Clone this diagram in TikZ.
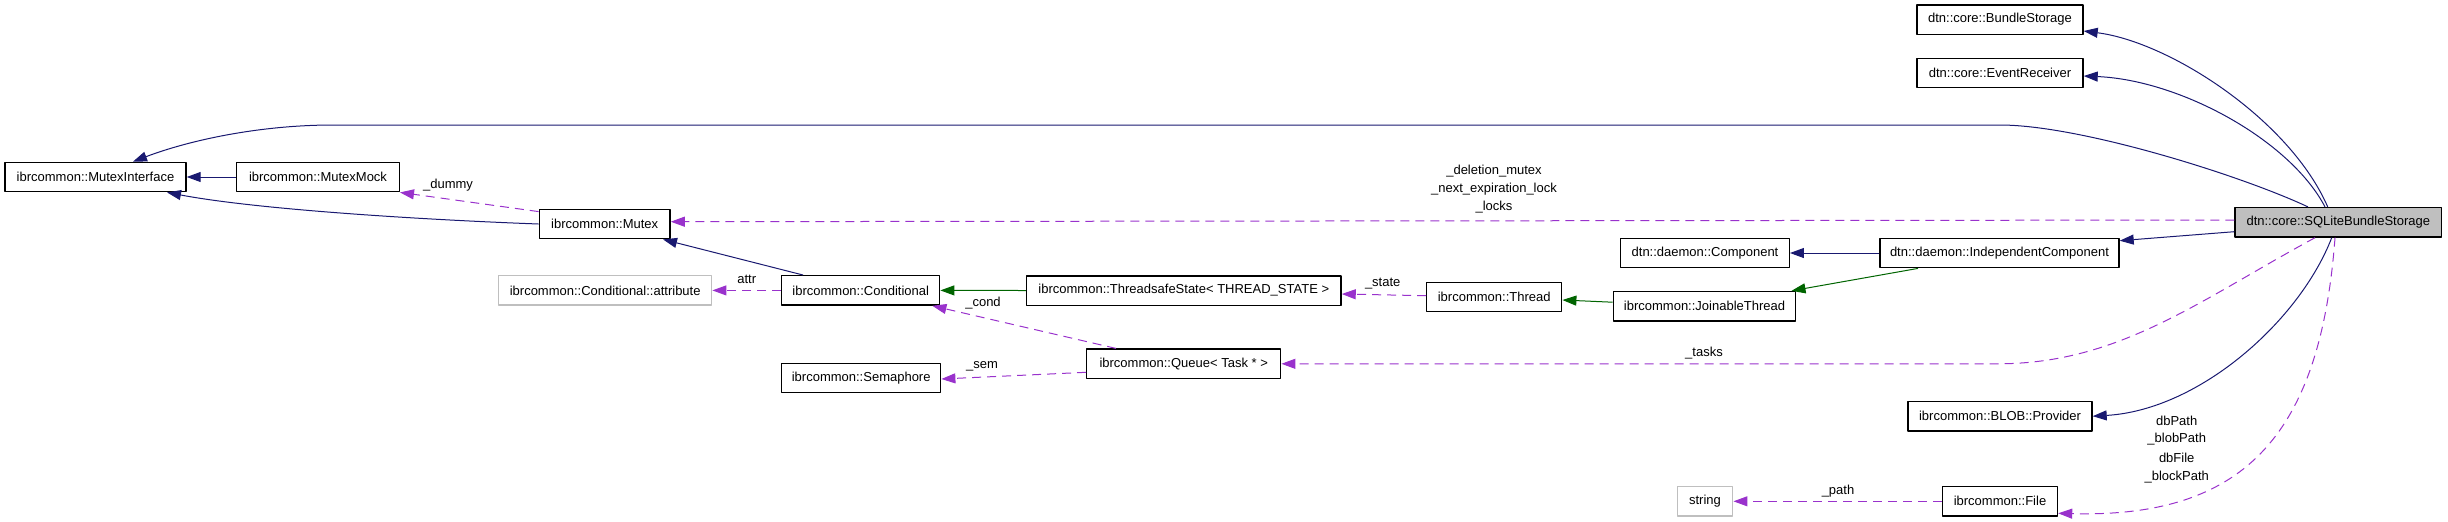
\documentclass[tikz,border=0pt]{standalone}
\usepackage{fontspec}
\setmainfont{Liberation Sans}
\usetikzlibrary{arrows.meta}

\definecolor{midblue}{HTML}{191970}
\definecolor{dkgreen}{HTML}{006400}
\definecolor{orchid}{HTML}{9932CC}
\definecolor{gray75}{HTML}{BFBFBF}

\begin{document}
\begin{tikzpicture}[x=0.5pt, y=-0.5pt, line join=round,
    every node/.style={font=\fontsize{6.5pt}{7.8pt}\selectfont},
    cls/.style={draw=black, line width=0.7pt, minimum height=14.7pt, inner sep=0pt},
    ext/.style={cls, draw=gray75},
    cur/.style={cls, fill=gray75},
    pub/.style={midblue, line width=0.5pt, -{Triangle[length=7pt,width=5pt]}},
    prot/.style={dkgreen, line width=0.5pt, -{Triangle[length=7pt,width=5pt]}},
    usage/.style={orchid, line width=0.5pt, dash pattern=on 4.5pt off 3pt, -{Triangle[length=7pt,width=5pt]}},
    lbl/.style={inner sep=0pt}]
	\useasboundingbox (0,0) rectangle (2448,521);
	% 1. Klassen
	\foreach \n/\x/\y/\w/\s/\t in {
		bstore/2000/19.5/166/cls/dtn::core::BundleStorage,
		evrecv/2000/73/166/cls/dtn::core::EventReceiver,
		mutexif/95.5/177/181/cls/ibrcommon::MutexInterface,
		mutexmock/318/177/162.6/cls/ibrcommon::MutexMock,
		mutex/604.7/224/130.7/cls/ibrcommon::Mutex,
		sqlite/2338.3/222.3/206.7/cur/dtn::core::SQLiteBundleStorage,
		comp/1705/253/168.5/cls/dtn::daemon::Component,
		indcomp/1999.5/253/239/cls/dtn::daemon::IndependentComponent,
		condattr/605.2/290.4/213/ext/ibrcommon::Conditional::attribute,
		cond/860.7/290.4/158/cls/ibrcommon::Conditional,
		tsstate/1183.8/290.5/314.5/cls/ibrcommon::ThreadsafeState< THREAD\_STATE >,
		thread/1494.2/297/135/cls/ibrcommon::Thread,
		jthread/1704.5/306.2/182.4/cls/ibrcommon::JoinableThread,
		sem/861.2/378/159/cls/ibrcommon::Semaphore,
		queue/1183.7/363.8/194/cls/ibrcommon::Queue< Task * >,
		provider/2000/416.2/184/cls/ibrcommon::BLOB::Provider,
		str/1705/501.3/55.5/ext/string,
		file/2000/501.3/115/cls/ibrcommon::File} {
		\node[\s, minimum width=\w*0.5pt] (\n) at (\x,\y) {\t};
	}
	% 2. Vererbung (blau, gruen)
	\draw[pub] (mutexmock.west) -- (mutexif.east);
	\draw[pub] (mutex.west) .. controls (430,220) and (260,210) .. ([shift={(71.5,0)}]mutexif.south);
	\draw[pub] ([shift={(-30.3,0)}]sqlite.north) .. controls (2240,175) and (2080,125) .. (2000,125) -- (333,125) .. controls (260,125) and (190,140) .. ([shift={(37.5,0)}]mutexif.north);
	\draw[pub] ([shift={(-10.6,0)}]sqlite.north) .. controls (2290,120) and (2170,42) .. ([shift={(0,11.5)}]bstore.east);
	\draw[pub] ([shift={(-13.3,0)}]sqlite.north) .. controls (2290,140) and (2180,80) .. ([shift={(0,3)}]evrecv.east);
	\draw[pub] ([shift={(0,9.4)}]sqlite.west) -- ([shift={(0,-12.3)}]indcomp.east);
	\draw[pub] (indcomp.west) -- (comp.east);
	\draw[pub] ([shift={(-57.7,0)}]cond.north) -- ([shift={(58.3,0)}]mutex.south);
	\draw[pub] ([shift={(-6.6,0)}]sqlite.south) .. controls (2300,320) and (2200,410) .. (provider.east);
	\draw[prot] (tsstate.west) -- (cond.east);
	\draw[prot] ([shift={(-81.5,0)}]indcomp.south) -- ([shift={(87,0)}]jthread.north);
	\draw[prot] ([shift={(0,-4)}]jthread.west) -- ([shift={(0,3)}]thread.east);
	% 3. Benutzung (gestrichelt)
	\draw[usage] ([shift={(0,3)}]mutex.north west) -- (mutexmock.south east);
	\draw[usage] ([shift={(0,-2.3)}]sqlite.west) -- ([shift={(0,-2.3)}]mutex.east);
	\draw[usage] (cond.west) -- (condattr.east);
	\draw[usage] ([shift={(0,-1.3)}]thread.west) -- ([shift={(0,3.5)}]tsstate.east);
	\draw[usage] ([shift={(-67.7,0)}]queue.north) -- ([shift={(-8,0)}]cond.south east);
	\draw[usage] ([shift={(0,8.5)}]queue.west) -- ([shift={(0,1)}]sem.east);
	\draw[usage] ([shift={(-23.3,0)}]sqlite.south) .. controls (2200,300) and (2120,363) .. (2000,363.8) -- (queue.east);
	\draw[usage] ([shift={(-3.3,0)}]sqlite.south) .. controls (2320,440) and (2240,518) .. ([shift={(0,12)}]file.east);
	\draw[usage] (file.west) -- (str.east);
	% 4. Beschriftungen
	\foreach \n/\x/\y/\t in {
		ldummy/448/185/\_dummy,
		ldel/1494/170.7/\_deletion\_mutex,
		lnext/1494/188.7/\_next\_expiration\_lock,
		llocks/1494/207.3/\_locks,
		lattr/746.7/279.3/attr,
		lcond/983/303/\_cond,
		lstate/1382.7/283.3/\_state,
		lsem/982/366.7/\_sem,
		ltasks/1704/352.7/\_tasks,
		ldbpath/2176.7/420.7/dbPath,
		lblob/2176.7/439.3/\_blobPath,
		ldbfile/2176.7/458.3/dbFile,
		lblock/2176.7/476.7/\_blockPath,
		lpath/1838/491/\_path} {
		\node[lbl] (\n) at (\x,\y) {\t};
	}
\end{tikzpicture}
\end{document}
